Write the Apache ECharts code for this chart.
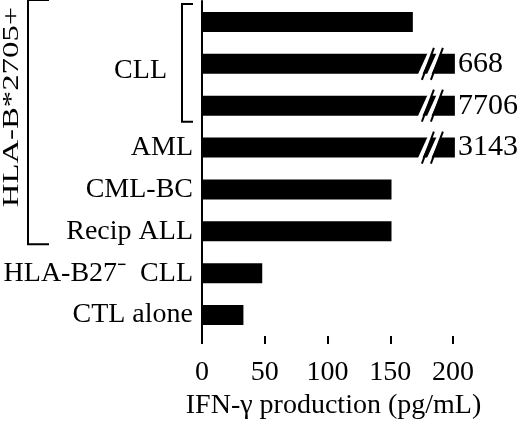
<!DOCTYPE html>
<html>
<head>
<meta charset="utf-8">
<script src="https://cdn.jsdelivr.net/npm/echarts@6/dist/echarts.min.js"></script>
<style>
  html, body { margin: 0; padding: 0; background: #fff; }
  #chart { width: 520px; height: 422px; }
</style>
</head>
<body>
<div id="chart"></div>
<script>
// rows from top to bottom
var categories = ['CLL 1', 'CLL 2', 'CLL 3', 'AML', 'CML-BC', 'Recip ALL', 'HLA-B27- CLL', 'CTL alone'];
var tickLabels = ['', '{shift|CLL}', '', 'AML', 'CML-BC', 'Recip ALL', 'HLA-B27\u207B  CLL', 'CTL alone'];
var values = [168, 668, 7706, 3143, 151, 151, 48, 33];
var xTicks = [0, 50, 100, 150, 200];
// bars over the axis end are cut and drawn with a break
var axisMax = 200;
var brokenLength = 201.5;
var breakAt = 180;

var font = 'Liberation Serif';

var myChart = echarts.init(document.getElementById('chart'));

var barData = values.map(function (v) {
    return v > axisMax ? brokenLength : v;
});
var breakData = [];
values.forEach(function (v, i) {
    if (v > axisMax) breakData.push([breakAt, i]);
});

var option = {
    backgroundColor: '#fff',
    animation: false,
    grid: { left: 202, right: 67, top: 1, bottom: 86, outerBoundsMode: 'none' },
    xAxis: {
        type: 'value',
        min: xTicks[0],
        max: xTicks[xTicks.length - 1],
        interval: 50,
        name: 'IFN-γ production (pg/mL)',
        nameLocation: 'middle',
        nameGap: 46,
        nameTextStyle: {
            fontFamily: font, fontSize: 28, color: '#000',
            verticalAlign: 'top', padding: [0, 0, 0, 12]
        },
        axisLine: { lineStyle: { color: '#000', width: 2 } },
        axisTick: { show: true, length: 8, lineStyle: { color: '#000', width: 2 } },
        axisLabel: { margin: 23, fontFamily: font, fontSize: 28, color: '#000' },
        splitLine: { show: false }
    },
    yAxis: {
        type: 'category',
        inverse: true,
        data: categories,
        axisLine: { lineStyle: { color: '#000', width: 2 } },
        axisTick: { show: false },
        axisLabel: {
            margin: 9,
            fontFamily: font,
            fontSize: 28,
            color: '#000',
            formatter: function (val, i) { return tickLabels[i]; },
            rich: {
                shift: { fontFamily: font, fontSize: 28, color: '#000', padding: [14, 26, 0, 0] }
            }
        }
    },
    series: [
        {
            type: 'bar',
            data: barData,
            barWidth: 20,
            clip: false,
            itemStyle: { color: '#000' },
            label: {
                show: true,
                position: 'right',
                distance: 3,
                fontFamily: font,
                fontSize: 30,
                color: '#000',
                formatter: function (p) {
                    var v = values[p.dataIndex];
                    return v > axisMax ? String(v) : '';
                }
            }
        },
        {
            type: 'custom',
            z: 5,
            data: breakData,
            renderItem: function (params, api) {
                var p = api.coord([api.value(0), api.value(1)]);
                var x = p[0], y = p[1];
                var children = [];
                [0, 9].forEach(function (dx) {
                    children.push({
                        type: 'line',
                        shape: { x1: x + dx - 3 - 5, y1: y + 11, x2: x + dx - 3 + 5, y2: y - 11 },
                        style: { stroke: '#fff', lineWidth: 4 }
                    });
                    children.push({
                        type: 'line',
                        shape: { x1: x + dx - 6, y1: y + 16, x2: x + dx + 6, y2: y - 16 },
                        style: { stroke: '#000', lineWidth: 2 }
                    });
                });
                return { type: 'group', children: children };
            }
        }
    ]
};

myChart.setOption(option);

// brackets for the grouped rows
function rowY(i) {
    return myChart.convertToPixel({ yAxisIndex: 0 }, categories[i]);
}
function bracket(x1, x2, top, bottom) {
    return {
        type: 'polyline',
        shape: { points: [[x2, top], [x1, top], [x1, bottom], [x2, bottom]] },
        style: { stroke: '#000', lineWidth: 2, fill: null }
    };
}
var bigTop = rowY(0) - 22, bigBottom = rowY(5) + 13;
myChart.setOption({
    graphic: [
        bracket(182, 193, rowY(0) - 18, rowY(2) + 16),
        bracket(28, 49, bigTop, bigBottom),
        {
            type: 'text',
            x: 12,
            y: 107,
            rotation: Math.PI / 2,
            scaleX: 1.17,
            scaleY: 0.85,
            style: {
                text: 'HLA-B*2705+',
                fontFamily: font,
                fontSize: 28,
                fill: '#000',
                align: 'center',
                verticalAlign: 'middle'
            }
        }
    ]
});
</script>
</body>
</html>
